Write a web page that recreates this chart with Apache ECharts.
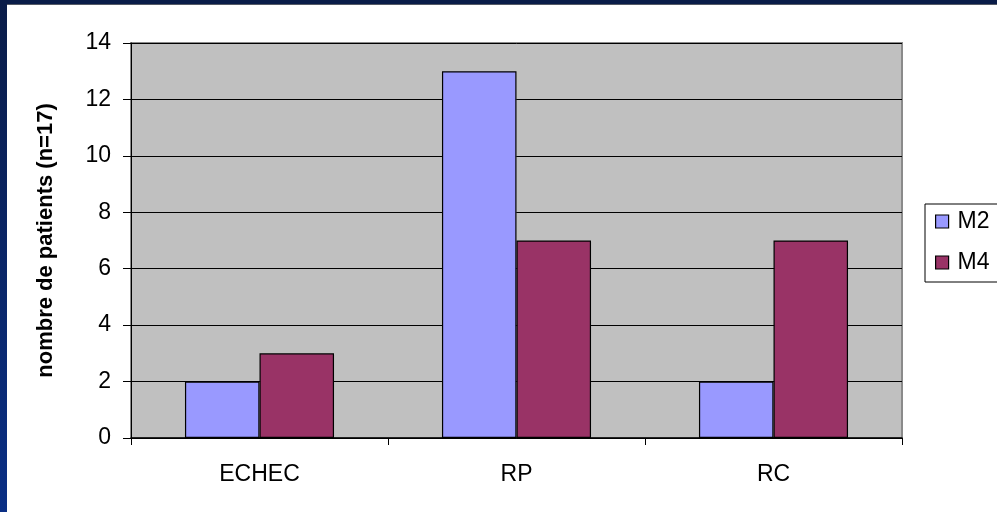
<!DOCTYPE html>
<html>
<head>
<meta charset="utf-8">
<script src="https://cdn.jsdelivr.net/npm/echarts@6/dist/echarts.min.js"></script>
<style>
html,body{margin:0;padding:0;background:#fff;}
#c{width:997px;height:512px;}
</style>
</head>
<body>
<div id="c"></div>
<script>
const categories = ['ECHEC', 'RP', 'RC'];
const seriesNames = ['M2', 'M4'];
const m2Values = [2, 13, 2];
const m4Values = [3, 7, 7];
const yTicks = [0, 2, 4, 6, 8, 10, 12, 14];

const chart = echarts.init(document.getElementById('c'), null, {renderer: 'canvas'});
const font = 'Liberation Sans, Arial, sans-serif';
chart.setOption({
  backgroundColor: '#ffffff',
  animation: false,
  graphic: [
    {type: 'rect', left: 0, top: 0, shape: {width: 997, height: 4}, style: {fill: '#0a1c48'}, z: 100},
    {type: 'rect', left: 0, top: 4, shape: {width: 997, height: 1}, style: {fill: '#555a66'}, z: 100},
    {type: 'rect', left: 0, top: 0, shape: {width: 7, height: 512},
      style: {fill: new echarts.graphic.LinearGradient(0, 0, 0, 1, [
        {offset: 0, color: '#0a1c48'}, {offset: 1, color: '#0a2f85'}])}, z: 100}
  ],
  grid: {
    left: 131, right: 95, top: 43, bottom: 74,
    show: true, backgroundColor: '#c0c0c0', borderColor: '#8a8a8a', borderWidth: 2,
    containLabel: false
  },
  legend: {
    orient: 'vertical',
    left: 925, top: 204,
    data: seriesNames,
    icon: 'rect',
    itemWidth: 13, itemHeight: 13,
    itemGap: 18,
    padding: [6, 60, 8, 10],
    borderColor: '#000', borderWidth: 1,
    backgroundColor: '#fff',
    itemStyle: {borderColor: '#000', borderWidth: 1.2},
    textStyle: {fontFamily: font, fontSize: 23, color: '#000', padding: [0, 0, 0, 4]}
  },
  xAxis: {
    type: 'category',
    data: categories,
    boundaryGap: true,
    axisLine: {lineStyle: {color: '#000', width: 1.5}},
    axisTick: {show: true, length: 7, inside: false, lineStyle: {color: '#000'}},
    axisLabel: {fontFamily: font, fontSize: 23, color: '#000', margin: 25},
    splitLine: {show: false}
  },
  yAxis: {
    type: 'value',
    min: 0, max: 14, interval: 2,
    name: 'nombre de patients (n=17)',
    nameLocation: 'middle',
    nameRotate: 90,
    nameGap: 74,
    nameTextStyle: {fontFamily: font, fontSize: 22, fontWeight: 'bold', color: '#000'},
    axisLine: {show: true, lineStyle: {color: '#000', width: 1}},
    axisTick: {show: true, length: 8, inside: false, lineStyle: {color: '#000'}},
    axisLabel: {fontFamily: font, fontSize: 23, color: '#000', margin: 20,
      formatter: function (v) { return yTicks.indexOf(v) >= 0 ? String(v) : ''; }},
    splitLine: {show: true, lineStyle: {color: '#000', width: 1}}
  },
  series: [
    {name: seriesNames[0], type: 'bar', data: m2Values, barGap: '0%', barCategoryGap: '42%',
      itemStyle: {color: '#9999ff', borderColor: '#000', borderWidth: 1.2}},
    {name: seriesNames[1], type: 'bar', data: m4Values, barGap: '0%', barCategoryGap: '42%',
      itemStyle: {color: '#993366', borderColor: '#000', borderWidth: 1.2}}
  ]
});
</script>
</body>
</html>
